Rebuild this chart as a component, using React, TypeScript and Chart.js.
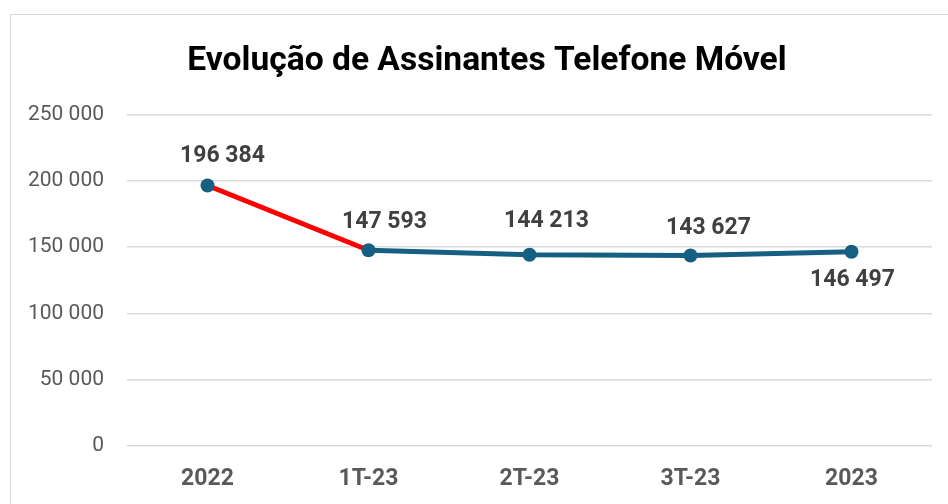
import React, { useEffect, useRef } from "react";
import { Chart, registerables } from "chart.js";

Chart.register(...registerables);

const categories = ["2022", "1T-23", "2T-23", "3T-23", "2023"];
const subscribers = [196384, 147593, 144213, 143627, 146497];
const yTicks = { min: 0, max: 250000, step: 50000 };
const titleText = "Evolução de Assinantes Telefone Móvel";

// label placement relative to each point (style only)
const labelOffsets: [number, number][] = [
  [15, -29],
  [16, -28],
  [17, -33],
  [18, -27],
  [1, 29],
];

const fmt = (v: number) => String(v).replace(/\B(?=(\d{3})+(?!\d))/g, " ");

const FONT = "Roboto, 'Noto Sans', sans-serif";
const TEAL = "#156082";
const RED = "#FF0000";

const dataLabelPlugin = {
  id: "dataLabels",
  afterDatasetsDraw(chart: any) {
    const ctx = chart.ctx;
    const meta = chart.getDatasetMeta(0);
    ctx.save();
    ctx.font = `bold 23px ${FONT}`;
    ctx.fillStyle = "#404040";
    ctx.textAlign = "center";
    ctx.textBaseline = "middle";
    meta.data.forEach((pt: any, i: number) => {
      const v = chart.data.datasets[0].data[i];
      const [dx, dy] = labelOffsets[i];
      ctx.fillText(fmt(v), pt.x + dx, pt.y + dy);
    });
    ctx.restore();
  },
};

const titlePlugin = {
  id: "centeredTitle",
  afterDraw(chart: any) {
    const ctx = chart.ctx;
    ctx.save();
    ctx.font = `bold 33.6px ${FONT}`;
    ctx.fillStyle = "#000000";
    ctx.textAlign = "center";
    ctx.textBaseline = "alphabetic";
    ctx.fillText(titleText, chart.width / 2, 55);
    ctx.restore();
  },
};

export default function App() {
  const ref = useRef<HTMLCanvasElement>(null);
  useEffect(() => {
    document.body.style.margin = "0";
    document.body.style.overflow = "hidden";
    const chart = new Chart(ref.current!, {
      type: "line",
      data: {
        labels: categories,
        datasets: [
          {
            data: subscribers,
            borderColor: TEAL,
            borderWidth: 5,
            pointRadius: 7,
            pointHoverRadius: 7,
            pointBackgroundColor: TEAL,
            pointBorderColor: TEAL,
            pointBorderWidth: 0,
            tension: 0,
            segment: {
              borderColor: (c: any) => (c.p0DataIndex === 0 ? RED : TEAL),
            },
          },
        ],
      },
      options: {
        animation: false,
        responsive: false,
        layout: { padding: { left: 16, right: 31, top: 99.4, bottom: 8 } },
        plugins: {
          legend: { display: false },
          tooltip: { enabled: false },
          title: { display: false },
        },
        scales: {
          x: {
            offset: true,
            grid: { display: false, drawTicks: false },
            border: { display: false },
            ticks: {
              color: "#595959",
              font: { family: FONT, size: 23, weight: "bold" },
              padding: 19,
            },
            afterFit: (s: any) => {
              s.height = 50;
            },
          },
          y: {
            min: yTicks.min,
            max: yTicks.max,
            grid: { color: "#d9d9d9", lineWidth: 1.5, drawTicks: false },
            border: { display: false },
            ticks: {
              stepSize: yTicks.step,
              color: "#595959",
              font: { family: FONT, size: 21 },
              padding: 23,
              callback: (v: any) => fmt(Number(v)),
            },
            afterFit: (s: any) => {
              s.width = 100;
            },
          },
        },
      },
      plugins: [dataLabelPlugin, titlePlugin],
    });
    return () => chart.destroy();
  }, []);

  return (
    <div style={{ position: "relative", width: 948, height: 504, overflow: "hidden", background: "#fff" }}>
      <div
        style={{
          position: "absolute",
          left: 10,
          top: 14,
          width: 952,
          height: 520,
          border: "1px solid #d9d9d9",
          background: "#fff",
        }}
      >
        <canvas ref={ref} width={952} height={489} style={{ display: "block" }} />
      </div>
    </div>
  );
}
